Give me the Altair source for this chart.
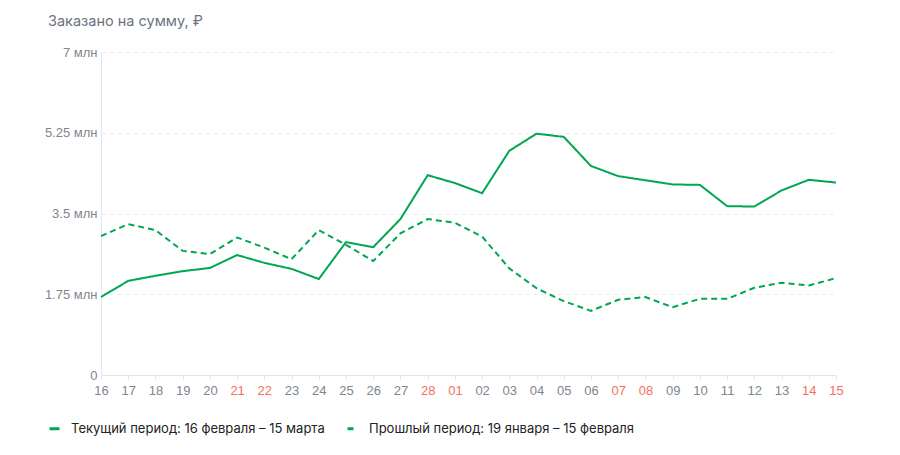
import altair as alt
import pandas as pd

days = ["16", "17", "18", "19", "20", "21", "22", "23", "24", "25", "26", "27", "28",
        "01", "02", "03", "04", "05", "06", "07", "08", "09", "10", "11", "12", "13", "14", "15"]
weekends = ["21", "22", "28", "01", "07", "08", "14", "15"]

current = [1.69, 2.04, 2.15, 2.25, 2.32, 2.60, 2.43, 2.30, 2.08, 2.88, 2.77, 3.38, 4.33,
           4.16, 3.94, 4.86, 5.23, 5.16, 4.53, 4.31, 4.22, 4.13, 4.12, 3.66, 3.65, 4.00, 4.23, 4.17]
previous = [3.01, 3.27, 3.14, 2.69, 2.62, 2.98, 2.76, 2.51, 3.14, 2.82, 2.47, 3.07, 3.38,
            3.30, 3.00, 2.31, 1.88, 1.60, 1.39, 1.63, 1.69, 1.47, 1.65, 1.65, 1.89, 2.00, 1.94, 2.10]

cur_name = "Текущий период: 16 февраля – 15 марта"
prev_name = "Прошлый период: 19 января – 15 февраля"

df = pd.concat([
    pd.DataFrame({"day": days, "value": current, "series": cur_name}),
    pd.DataFrame({"day": days, "value": previous, "series": prev_name}),
])

green = "#00a650"
grey = "#80868f"
weekend_list = "[" + ",".join(f"'{d}'" for d in weekends) + "]"

chart = alt.Chart(df).mark_line(strokeWidth=2, color=green).encode(
    x=alt.X("day:N", sort=days, title=None,
            scale=alt.Scale(type="point", padding=0),
            axis=alt.Axis(labelAngle=0, labelPadding=5, tickSize=4, tickColor="#e3e5e8",
                          domainColor="#e3e5e8", labelFontSize=13, labelFont="Liberation Sans",
                          labelColor=alt.expr(f"indexof({weekend_list}, datum.value) >= 0 ? '#f56f5f' : '{grey}'"))),
    y=alt.Y("value:Q", title=None,
            scale=alt.Scale(domain=[0, 7], nice=False),
            axis=alt.Axis(values=[0, 1.75, 3.5, 5.25, 7], tickSize=0, labelPadding=4,
                          domainColor="#e3e5e8", labelColor=grey, labelFontSize=13,
                          labelFont="Liberation Sans",
                          grid=True, gridColor="#e9ebef", gridDash=[4, 4],
                          labelExpr="datum.value == 0 ? '0' : datum.value + ' млн'")),
    strokeDash=alt.StrokeDash("series:N", sort=[cur_name, prev_name],
                              scale=alt.Scale(domain=[cur_name, prev_name], range=[[1, 0], [6, 4]]),
                              legend=alt.Legend(title=None, orient="none", direction="horizontal",
                                                legendX=-53, legendY=370, symbolType="stroke",
                                                symbolStrokeColor=green, symbolStrokeWidth=3,
                                                symbolSize=100, labelFontSize=13, labelColor="#222",
                                                labelLimit=400, columnPadding=16, labelOffset=10)),
).properties(
    width=735,
    height=323,
    autosize=alt.AutoSizeParams(type="none"),
    padding={"left": 93, "top": 44, "right": 56, "bottom": 72},
    title=alt.Title("Заказано на сумму, ₽", anchor="start", frame="group", dx=-53,
                    offset=17, fontSize=14.5, fontWeight="normal", color="#6b7380"),
).configure(
    font="Inter",
).configure_view(
    strokeWidth=0,
)

chart.save("out.html", embed_options={"renderer": "svg", "actions": False})
